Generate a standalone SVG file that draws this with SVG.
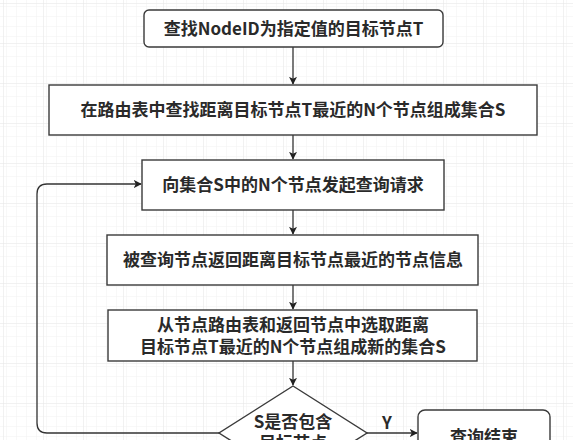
<svg xmlns="http://www.w3.org/2000/svg" width="573" height="440" viewBox="0 0 573 440">
<defs>
<pattern id="minor" width="10" height="10" patternUnits="userSpaceOnUse" x="3" y="3">
<path d="M10 0H0V10" fill="none" stroke="#f1f1f1" stroke-width="1"/>
</pattern>
<pattern id="major" width="40" height="40" patternUnits="userSpaceOnUse" x="3" y="3">
<rect width="40" height="40" fill="url(#minor)"/>
<path d="M40 0H0V40" fill="none" stroke="#e4e4e4" stroke-width="1"/>
</pattern>
<marker id="arr" viewBox="0 0 10 10" refX="9" refY="5" markerWidth="8" markerHeight="8" markerUnits="userSpaceOnUse" orient="auto">
<path d="M0 0L10 5L0 10L2.5 5Z" fill="#222"/>
</marker>
</defs>
<style>
.box{fill:#fff;stroke:#3a3a3a;stroke-width:1.4}
.t{font-family:"Noto Sans CJK SC","Noto Sans",sans-serif;font-size:17px;fill:#2a2a2a;text-anchor:middle;font-weight:600}
.c{fill:none;stroke:#333;stroke-width:1.3}
</style>
<rect width="573" height="440" fill="#fff"/>
<rect width="573" height="440" fill="url(#major)"/>
<g id="connectors">
<path class="c" d="M293 47V84" marker-end="url(#arr)"/>
<path class="c" d="M293 135V159" marker-end="url(#arr)"/>
<path class="c" d="M293 210V234" marker-end="url(#arr)"/>
<path class="c" d="M293 285V309" marker-end="url(#arr)"/>
<path class="c" d="M293 361V385" marker-end="url(#arr)"/>
<path class="c" d="M219 433H47Q37 433 37 423V194Q37 184 47 184H141" marker-end="url(#arr)"/>
<path class="c" d="M367 433H417" marker-end="url(#arr)"/>
<text class="t" x="387" y="429">Y</text>
</g>
<g id="n1"><rect class="box" x="144" y="10" width="299" height="37" rx="5"/><text class="t" x="293.5" y="34.5">查找NodeID为指定值的目标节点T</text></g>
<g id="n2"><rect class="box" x="49" y="85" width="488" height="50"/><text class="t" x="293" y="116">在路由表中查找距离目标节点T最近的N个节点组成集合S</text></g>
<g id="n3"><rect class="box" x="142" y="160" width="302" height="50"/><text class="t" x="293" y="191">向集合S中的N个节点发起查询请求</text></g>
<g id="n4"><rect class="box" x="107" y="235" width="371" height="50"/><text class="t" x="293" y="266">被查询节点返回距离目标节点最近的节点信息</text></g>
<g id="n5"><rect class="box" x="108" y="310" width="369" height="51"/><text class="t" x="293" y="331">从节点路由表和返回节点中选取距离</text><text class="t" x="293" y="353">目标节点T最近的N个节点组成新的集合S</text></g>
<g id="n6"><path class="box" d="M293 386L367 433L293 480L219 433Z"/><text class="t" x="293" y="428">S是否包含</text><text class="t" x="293" y="449">目标节点</text></g>
<g id="n7"><rect class="box" x="418" y="410" width="132" height="50" rx="7"/><text class="t" x="484" y="443">查询结束</text></g>
</svg>
